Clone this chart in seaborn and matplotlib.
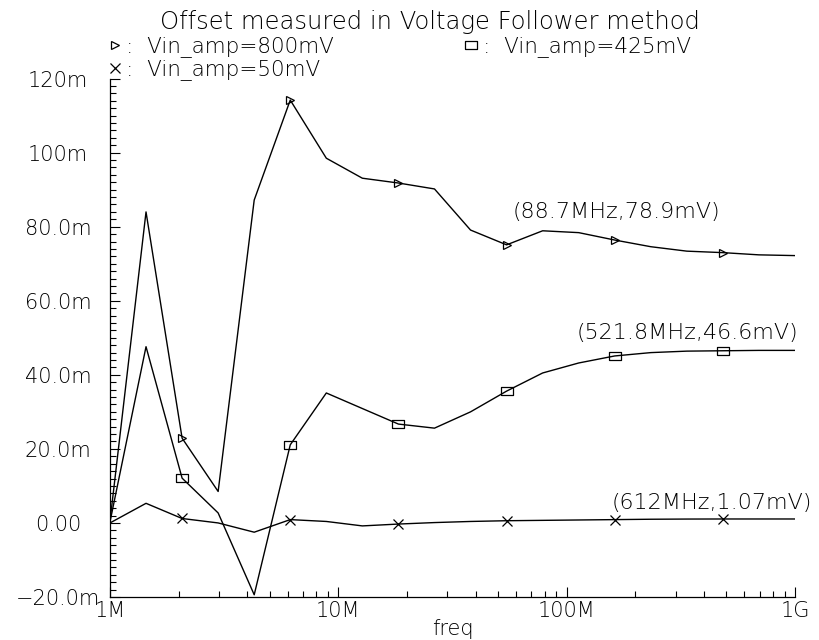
import numpy as np
import pandas as pd
import matplotlib
matplotlib.use("Agg")
import matplotlib.pyplot as plt
import seaborn as sns
from matplotlib.lines import Line2D
from matplotlib.ticker import MultipleLocator, LogLocator, NullFormatter

# ---- data ----
freq_mhz = [1.0, 1.438, 2.069, 2.976, 4.281, 6.158, 8.859, 12.74, 18.33, 26.37,
            37.93, 54.56, 78.48, 112.9, 162.4, 233.6, 336.0, 483.3, 695.2, 1000.0]
offset_800mv = [0.5, 84.0, 22.9, 8.5, 87.2, 114.2, 98.5, 93.1, 91.8, 90.2,
                79.1, 75.1, 78.9, 78.4, 76.4, 74.6, 73.4, 73.0, 72.4, 72.2]
offset_425mv = [0.3, 47.6, 12.1, 2.7, -19.4, 21.1, 35.1, 30.9, 26.7, 25.6,
                30.0, 35.6, 40.5, 43.2, 45.1, 46.0, 46.4, 46.5, 46.6, 46.6]
offset_50mv = [0.0, 5.3, 1.2, 0.0, -2.5, 0.9, 0.4, -0.8, -0.3, 0.1,
               0.4, 0.6, 0.7, 0.8, 0.9, 1.0, 1.05, 1.07, 1.07, 1.07]

series_names = ["Vin_amp=800mV", "Vin_amp=425mV", "Vin_amp=50mV"]
ytick_vals = [-20, 0, 20, 40, 60, 80, 100, 120]
ytick_labels = ["\u221220.0m", "0.00", "20.0m", "40.0m", "60.0m", "80.0m", "100m", "120m"]
xtick_vals = [1e6, 1e7, 1e8, 1e9]
xtick_labels = ["1M", "10M", "100M", "1G"]
title = "Offset measured in Voltage Follower method"
annotations = [("(88.7MHz,78.9mV)", 58e6, 84.0),
               ("(521.8MHz,46.6mV)", 111e6, 51.3),
               ("(612MHz,1.07mV)", 158e6, 5.4)]

df = pd.DataFrame({
    "freq": np.array(freq_mhz) * 1e6,
    "v800": offset_800mv,
    "v425": offset_425mv,
    "v50": offset_50mv,
})

sns.set_style("ticks")
plt.rcParams["font.family"] = ["DejaVu Sans"]
plt.rcParams["font.weight"] = "light"
plt.rcParams["axes.labelweight"] = "light"
plt.rcParams["axes.edgecolor"] = "black"
plt.rcParams["axes.linewidth"] = 0.9
plt.rcParams["text.color"] = "black"
plt.rcParams["axes.labelcolor"] = "black"
plt.rcParams["xtick.color"] = "black"
plt.rcParams["ytick.color"] = "black"

W, H = 819, 640
PT = 72 / 100  # points per pixel at dpi 100
fig = plt.figure(figsize=(W / 100, H / 100), dpi=100)
ax = fig.add_axes([110 / W, 1 - 597 / H, (795 - 110) / W, (597 - 78.6) / H])
ax.set_xscale("log")

rect = [(-1.5, -1), (1.5, -1), (1.5, 1), (-1.5, 1), (-1.5, -1)]
styles = [("v800", ">", 6), ("v425", rect, 9), ("v50", "x", 7)]
for col, mk, ms in styles:
    sns.lineplot(data=df, x="freq", y=col, ax=ax, color="black", lw=1,
                 errorbar=None, marker=mk, markersize=ms,
                 markevery=slice(2, None, 3), markerfacecolor="none",
                 markeredgecolor="black", markeredgewidth=0.9)

ax.set_xlim(1e6, 1e9)
ax.set_ylim(-20, 120)
ax.set_yticks(ytick_vals, ytick_labels)
ax.yaxis.set_minor_locator(MultipleLocator(2))
ax.set_xticks(xtick_vals, xtick_labels)
ax.xaxis.set_minor_locator(LogLocator(base=10, subs=range(2, 10)))
ax.xaxis.set_minor_formatter(NullFormatter())
ax.tick_params(axis="both", which="major", direction="in", length=7,
               width=0.8, labelsize=15)
ax.tick_params(axis="both", which="minor", direction="in", length=4, width=0.8)
ax.tick_params(axis="y", which="major", pad=52 * PT)
ax.tick_params(axis="x", which="major", pad=3)
for lab in ax.get_yticklabels():
    lab.set_horizontalalignment("center")
ax.set_ylabel("")
ax.set_xlabel("freq", fontsize=15, va="center", fontweight="light")
ax.xaxis.set_label_coords(0.5, (597 - 629) / (597 - 78.6))
sns.despine(ax=ax)

for txt, x, y in annotations:
    ax.text(x, y, txt, fontsize=16, ha="left", va="center")

fig.text(430 / W, 1 - 22 / H, title, ha="center", va="center", fontsize=17.5)

h800 = Line2D([], [], ls="none", marker=">", ms=6, mfc="none", mec="black", mew=0.9)
h425 = Line2D([], [], ls="none", marker=rect, ms=9, mfc="none", mec="black", mew=0.9)
h50 = Line2D([], [], ls="none", marker="x", ms=7, mfc="none", mec="black", mew=0.9)
leg_kw = dict(loc="center left", frameon=False, handlelength=0.55, handletextpad=0.25,
              borderaxespad=0, borderpad=0, fontsize=15.5, labelcolor="black")
leg1 = fig.legend(handles=[h800, h425],
                  labels=[":  " + series_names[0], ":  " + series_names[1]],
                  ncol=2, columnspacing=6.1, bbox_to_anchor=(109 / W, 1 - 47 / H), **leg_kw)
leg2 = fig.legend(handles=[h50], labels=[":  " + series_names[2]],
                  bbox_to_anchor=(109 / W, 1 - 69.5 / H), **leg_kw)

fig.savefig("out.png", dpi=100)
